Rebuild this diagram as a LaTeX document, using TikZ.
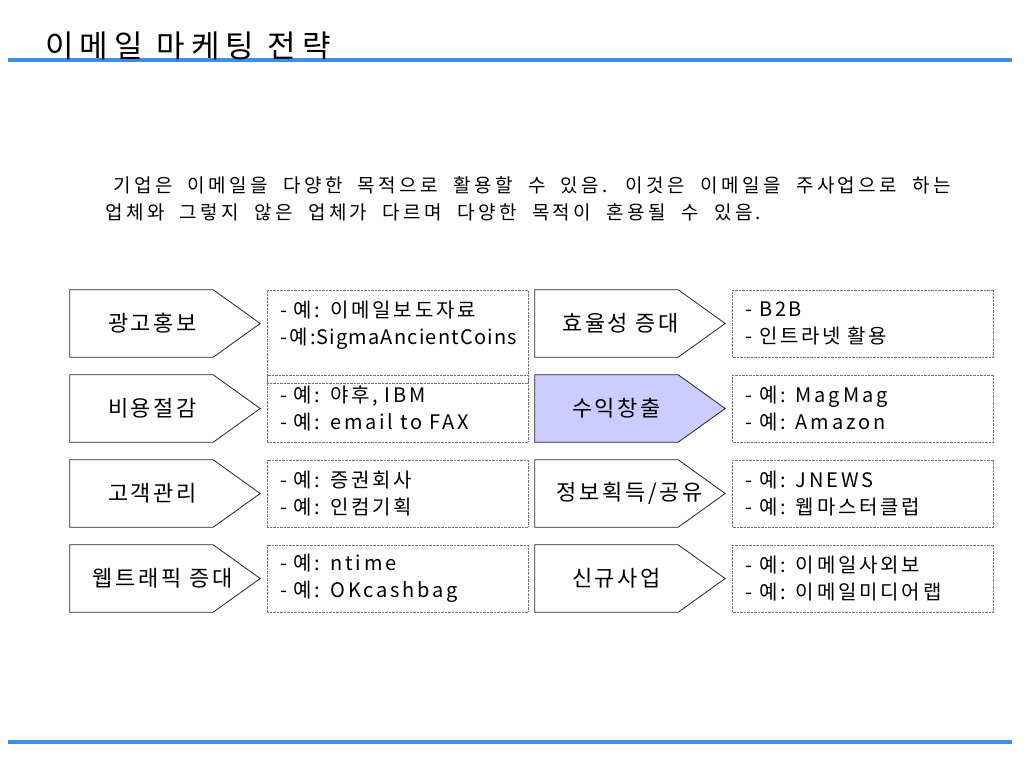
\documentclass[tikz,border=0pt]{standalone}
\usepackage{fontspec}
\setmainfont{Noto Sans CJK KR}
\newfontfamily\titlefont[LetterSpace=20]{Noto Sans CJK KR}
\newfontfamily\catfont[LetterSpace=12]{Noto Sans CJK KR}
\newfontfamily\introfont[LetterSpace=18,WordSpace=2.0]{Noto Sans CJK KR}
\newfontfamily\exfont[LetterSpace=14,WordSpace=2.2]{Noto Sans CJK KR}
\newfontfamily\exlatin[LetterSpace=6]{Noto Sans CJK KR}
\definecolor{rulecolor}{RGB}{62,142,232}
\definecolor{hilite}{RGB}{204,204,255}

\begin{document}
\begin{tikzpicture}[x=1pt,y=-1pt,
    catbody/.style={minimum width=143pt, minimum height=67pt, inner sep=0pt},
    catline/.style={draw=black!85, line width=0.8pt, fill=white},
    cattext/.style={font=\catfont\fontsize{22}{26}\selectfont, inner sep=0pt},
    exbox/.style={draw=black!55, densely dotted, text width=235pt, inner xsep=13pt, inner ysep=0pt,
      minimum height=67pt, align=left, font=\exfont\fontsize{20}{27}\selectfont},
    blueline/.style={draw=rulecolor, line width=4pt}]
    \useasboundingbox (0,0) rectangle (1024,768);

    % rules and title
    \coordinate (topL) at (8,60);
    \coordinate (topR) at (1012,60);
    \coordinate (botL) at (8,742);
    \coordinate (botR) at (1012,742);
    \draw[blueline] (topL) -- (topR);
    \draw[blueline] (botL) -- (botR);
    \node[anchor=base west, inner sep=0pt, font=\titlefont\fontsize{31}{34}\selectfont] (title) at (45,58) {이메일 마케팅 전략};

    \node[anchor=north west, inner sep=0pt, align=left, font=\introfont\fontsize{19}{27}\selectfont] (intro) at (105,176)
      {\hspace*{8pt}기업은 이메일을 다양한 목적으로 활용할 수 있음. 이것은 이메일을 주사업으로 하는\\
       업체와 그렇지 않은 업체가 다르며 다양한 목적이 혼용될 수 있음.};

    % bodies of the pentagons
    \node[catbody] (promo) at (141.5,323.5) {};
    \node[catbody] (cost) at (141.5,408.5) {};
    \node[catbody] (care) at (141.5,493.5) {};
    \node[catbody] (traffic) at (141.5,578.5) {};
    \node[catbody] (effic) at (606.5,323.5) {};
    \node[catbody] (profit) at (606.5,408.5) {};
    \node[catbody] (info) at (606.5,493.5) {};
    \node[catbody] (newbiz) at (606.5,578.5) {};

    \foreach \n in {promo,cost,care,traffic,effic,info,newbiz} {
      \draw[catline] (\n.north west) -- (\n.north east) -- ([xshift=47pt]\n.east) -- (\n.south east) -- (\n.south west) -- cycle;
    }
    \draw[catline, fill=hilite] (profit.north west) -- (profit.north east) -- ([xshift=47pt]profit.east) -- (profit.south east) -- (profit.south west) -- cycle;

    \node[cattext, xshift=11pt] (promoText) at (promo) {광고홍보};
    \node[cattext, xshift=11pt] (costText) at (cost) {비용절감};
    \node[cattext, xshift=11pt] (careText) at (care) {고객관리};
    \node[cattext, xshift=21pt] (trafficText) at (traffic) {웹트래픽 증대};
    \node[cattext, xshift=14pt] (efficText) at (effic) {효율성 증대};
    \node[cattext, xshift=10pt] (profitText) at (profit) {수익창출};
    \node[cattext, xshift=23pt] (infoText) at (info) {정보획득/공유};
    \node[cattext, xshift=10pt] (newbizText) at (newbiz) {신규사업};

    % examples
    \node[exbox, minimum height=93pt] (promoEx) at (397.5,336.5) {- 예: 이메일보도자료\\-예:{\exlatin SigmaAncientCoins}\\~};
    \node[exbox] (costEx) at (397.5,408.5) {- 예: 야후, IBM\\- 예: email to FAX};
    \node[exbox] (careEx) at (397.5,493.5) {- 예: 증권회사\\- 예: 인컴기획};
    \node[exbox] (trafficEx) at (397.5,578.5) {- 예: ntime\\- 예: OKcashbag};

    \node[exbox] (efficEx) at (863,323.5) {- B2B\\- 인트라넷 활용};
    \node[exbox] (profitEx) at (863,408.5) {- 예: MagMag\\- 예: Amazon};
    \node[exbox] (infoEx) at (863,493.5) {- 예: JNEWS\\- 예: 웹마스터클럽};
    \node[exbox] (newbizEx) at (863,578.5) {- 예: 이메일사외보\\- 예: 이메일미디어랩};

  \end{tikzpicture}
\end{document}
